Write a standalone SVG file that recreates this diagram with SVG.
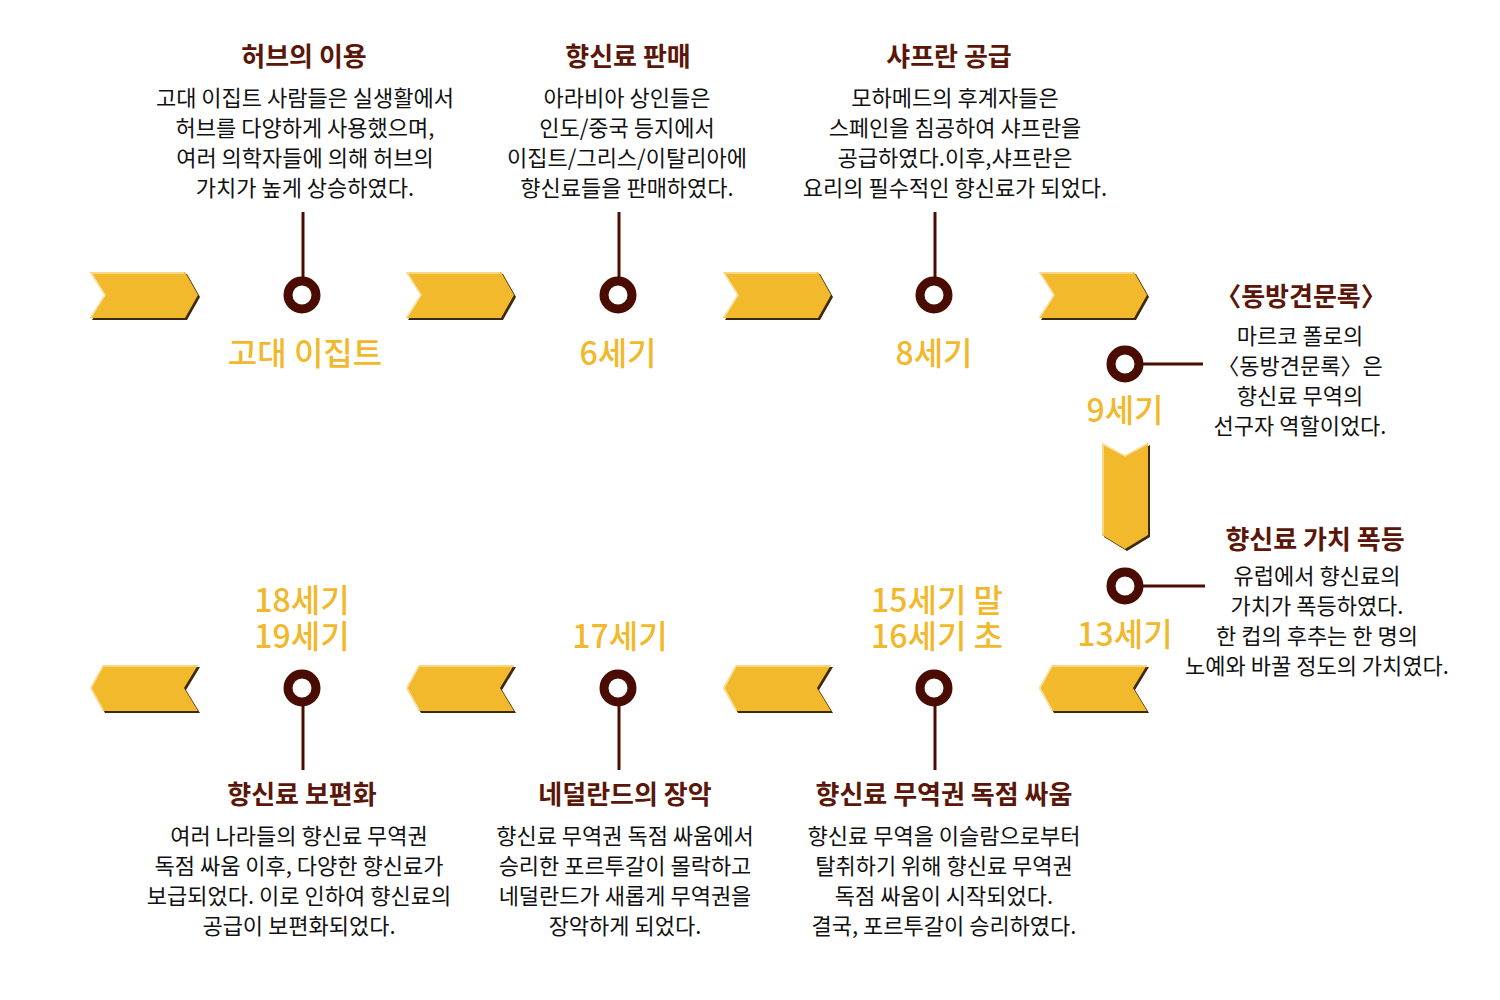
<svg xmlns="http://www.w3.org/2000/svg" xmlns:xlink="http://www.w3.org/1999/xlink" width="1500" height="1000" viewBox="0 0 1500 1000">
<style>
text{font-family:"Noto Sans CJK KR","Noto Sans",sans-serif;text-anchor:middle}
.t{font-size:26px;font-weight:700;fill:#5a1608}
.d{font-size:22px;font-weight:400;fill:#111}
.y{font-size:32px;font-weight:500;fill:#f2b82c}
.ln{stroke:#4a0c00;stroke-width:3;fill:none}
.ring{fill:#fff;stroke:#4a0c00;stroke-width:9}
.af{fill:#f2b92c}
.as{fill:#3d2a0a}
.ah{fill:none;stroke:#fbe0a0;stroke-width:1.5}
</style>
<defs>
<g id="ar">
<polygon class="as" points="2,2 97,2 110,25 97,48 2,48 17,25"/>
<polygon class="af" points="0,0 95,0 108,23 95,46 0,46 15,23"/>
<polyline class="ah" points="1,45 15,23 1,1 94,1"/>
</g>
<g id="al">
<polygon class="as" points="15,2 110,2 96,25 110,48 15,48 2,25"/>
<polygon class="af" points="13,0 108,0 94,23 108,46 13,46 0,23"/>
<polyline class="ah" points="13,45 1,23 13,1 107,1"/>
</g>
<g id="ad">
<polygon class="as" points="2,2 25,15 48,2 48,94 25,108 2,94"/>
<polygon class="af" points="0,0 23,13 46,0 46,92 23,106 0,92"/>
<polyline class="ah" points="1,91 1,1 23,13 45,1"/>
</g>
</defs>

<g id="connectors">
<line class="ln" x1="303" y1="212" x2="303" y2="282"/>
<line class="ln" x1="619" y1="212" x2="619" y2="282"/>
<line class="ln" x1="935" y1="212" x2="935" y2="282"/>
<line class="ln" x1="1138" y1="364" x2="1203" y2="364"/>
<line class="ln" x1="1138" y1="586" x2="1205" y2="586"/>
<line class="ln" x1="935" y1="700" x2="935" y2="770"/>
<line class="ln" x1="619" y1="700" x2="619" y2="770"/>
<line class="ln" x1="303" y1="700" x2="303" y2="770"/>
</g>

<g id="arrows">
<use xlink:href="#ar" href="#ar" x="90" y="272"/>
<use xlink:href="#ar" href="#ar" x="406" y="272"/>
<use xlink:href="#ar" href="#ar" x="723" y="272"/>
<use xlink:href="#ar" href="#ar" x="1039" y="272"/>
<use xlink:href="#ad" href="#ad" x="1102" y="443"/>
<use xlink:href="#al" href="#al" x="1039" y="665"/>
<use xlink:href="#al" href="#al" x="723" y="665"/>
<use xlink:href="#al" href="#al" x="406" y="665"/>
<use xlink:href="#al" href="#al" x="90" y="665"/>
</g>

<g id="node-egypt">
<circle class="ring" cx="302" cy="295" r="14"/>
<text class="t" x="304" y="66">허브의 이용</text>
<text class="d" x="305" y="106">고대 이집트 사람들은 실생활에서</text>
<text class="d" x="305" y="136">허브를 다양하게 사용했으며,</text>
<text class="d" x="305" y="166">여러 의학자들에 의해 허브의</text>
<text class="d" x="305" y="196">가치가 높게 상승하였다.</text>
<text class="y" x="305" y="365">고대 이집트</text>
</g>

<g id="node-6c">
<circle class="ring" cx="618" cy="295" r="14"/>
<text class="t" x="628" y="66">향신료 판매</text>
<text class="d" x="627" y="106">아라비아 상인들은</text>
<text class="d" x="627" y="136">인도/중국 등지에서</text>
<text class="d" x="627" y="166">이집트/그리스/이탈리아에</text>
<text class="d" x="627" y="196">향신료들을 판매하였다.</text>
<text class="y" x="618" y="365">6세기</text>
</g>

<g id="node-8c">
<circle class="ring" cx="934" cy="295" r="14"/>
<text class="t" x="949" y="66">샤프란 공급</text>
<text class="d" x="955" y="106">모하메드의 후계자들은</text>
<text class="d" x="955" y="136">스페인을 침공하여 샤프란을</text>
<text class="d" x="955" y="166">공급하였다.이후,샤프란은</text>
<text class="d" x="955" y="196">요리의 필수적인 향신료가 되었다.</text>
<text class="y" x="934" y="365">8세기</text>
</g>

<g id="node-9c">
<circle class="ring" cx="1125" cy="364" r="14"/>
<text class="t" x="1301" y="306">〈동방견문록〉</text>
<text class="d" x="1300" y="344">마르코 폴로의</text>
<text class="d" x="1300" y="374">〈동방견문록〉은</text>
<text class="d" x="1300" y="404">향신료 무역의</text>
<text class="d" x="1300" y="434">선구자 역할이었다.</text>
<text class="y" x="1125" y="422">9세기</text>
</g>

<g id="node-13c">
<circle class="ring" cx="1125" cy="586" r="14"/>
<text class="t" x="1315" y="549">향신료 가치 폭등</text>
<text class="d" x="1317" y="584">유럽에서 향신료의</text>
<text class="d" x="1317" y="614">가치가 폭등하였다.</text>
<text class="d" x="1317" y="644">한 컵의 후추는 한 명의</text>
<text class="d" x="1317" y="674">노예와 바꿀 정도의 가치였다.</text>
<text class="y" x="1125" y="646">13세기</text>
</g>

<g id="node-15c">
<circle class="ring" cx="934" cy="688" r="14"/>
<text class="y" x="937" y="612">15세기 말<tspan x="937" dy="36">16세기 초</tspan></text>
<text class="t" x="944" y="804">향신료 무역권 독점 싸움</text>
<text class="d" x="944" y="844">향신료 무역을 이슬람으로부터</text>
<text class="d" x="944" y="874">탈취하기 위해 향신료 무역권</text>
<text class="d" x="944" y="904">독점 싸움이 시작되었다.</text>
<text class="d" x="944" y="934">결국, 포르투갈이 승리하였다.</text>
</g>

<g id="node-17c">
<circle class="ring" cx="618" cy="688" r="14"/>
<text class="y" x="620" y="648">17세기</text>
<text class="t" x="625" y="804">네덜란드의 장악</text>
<text class="d" x="625" y="844">향신료 무역권 독점 싸움에서</text>
<text class="d" x="625" y="874">승리한 포르투갈이 몰락하고</text>
<text class="d" x="625" y="904">네덜란드가 새롭게 무역권을</text>
<text class="d" x="625" y="934">장악하게 되었다.</text>
</g>

<g id="node-18c">
<circle class="ring" cx="302" cy="688" r="14"/>
<text class="y" x="302" y="612">18세기<tspan x="302" dy="36">19세기</tspan></text>
<text class="t" x="302" y="804">향신료 보편화</text>
<text class="d" x="299" y="844">여러 나라들의 향신료 무역권</text>
<text class="d" x="299" y="874">독점 싸움 이후, 다양한 향신료가</text>
<text class="d" x="299" y="904">보급되었다. 이로 인하여 향신료의</text>
<text class="d" x="299" y="934">공급이 보편화되었다.</text>
</g>
</svg>
